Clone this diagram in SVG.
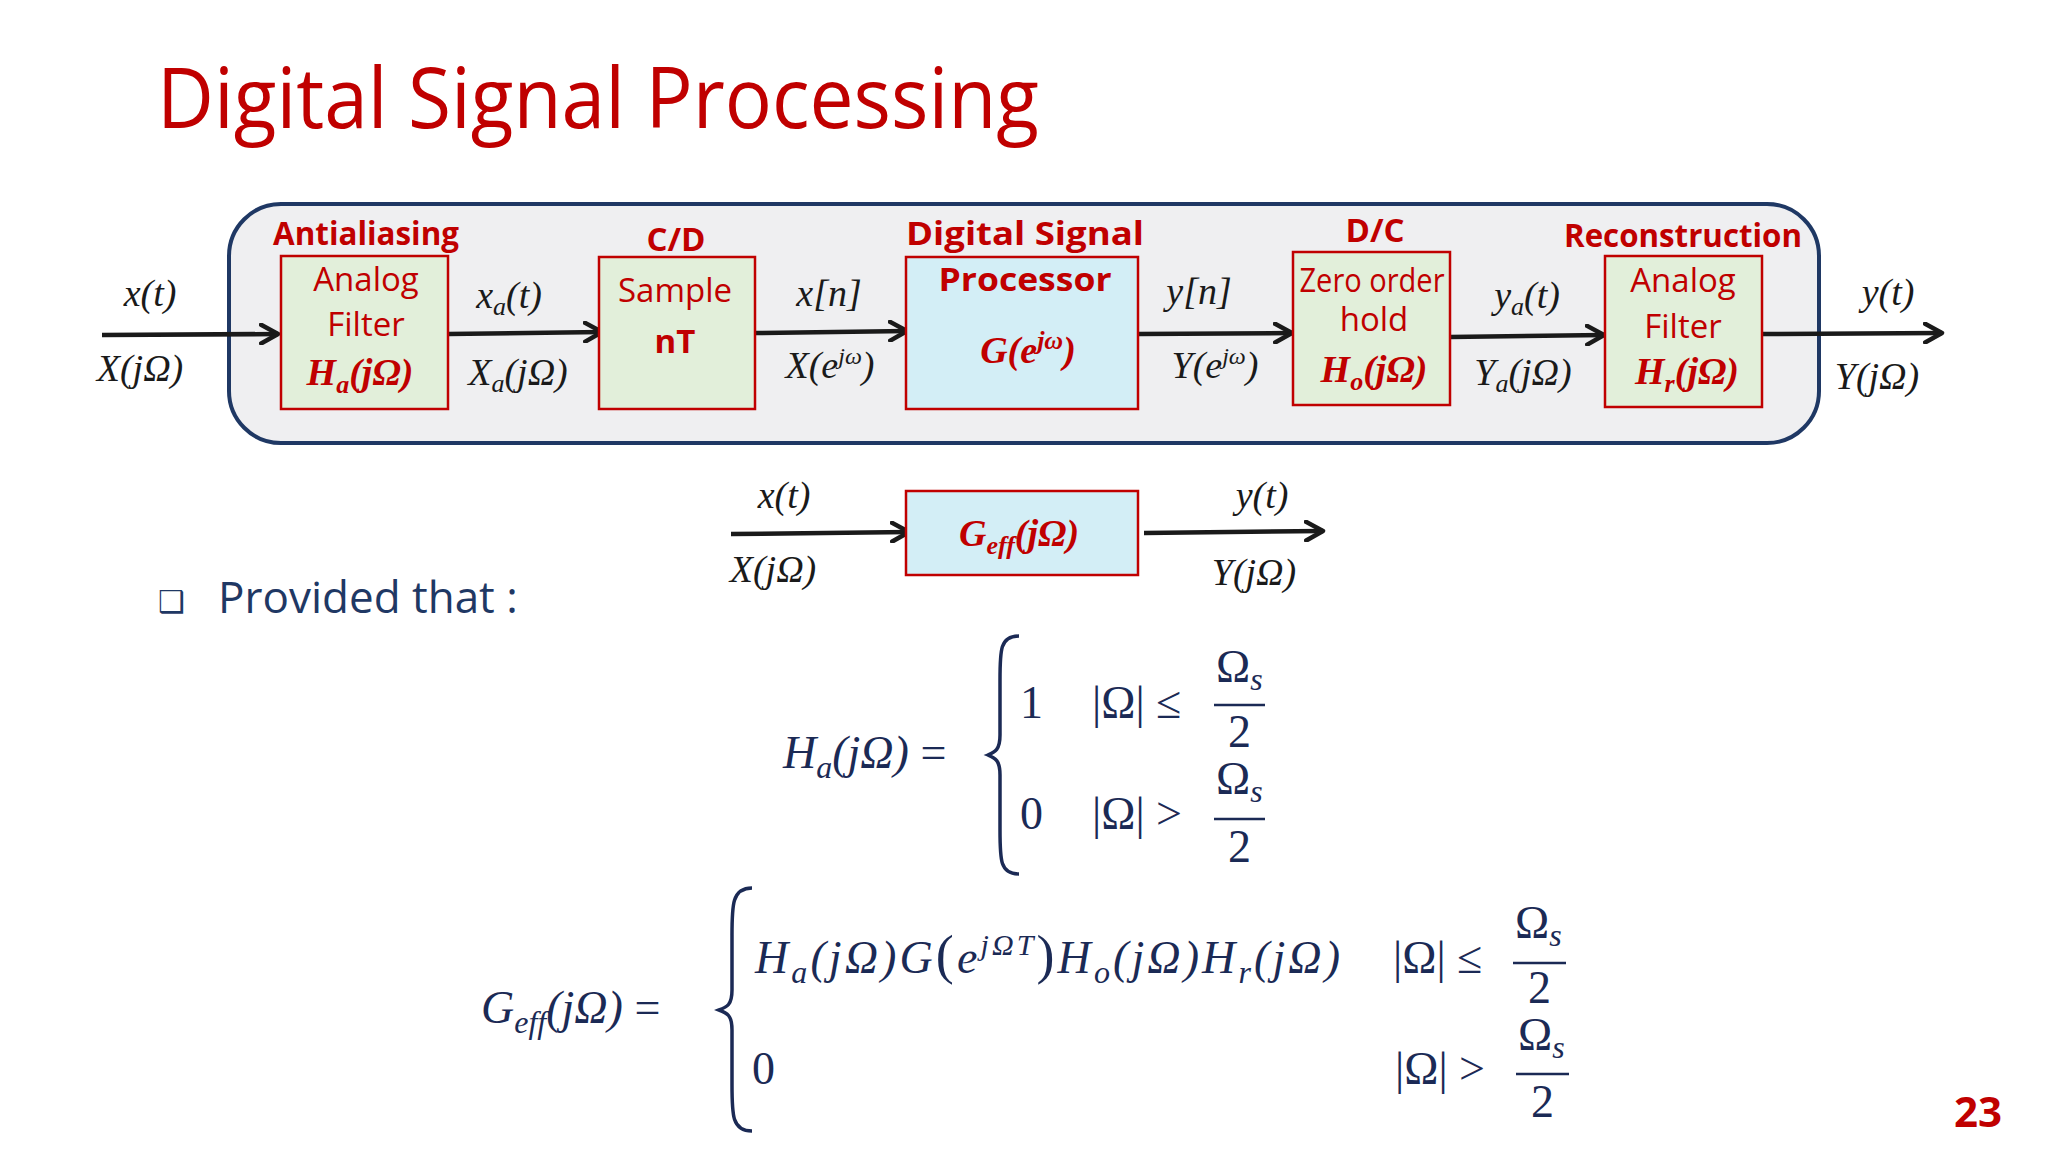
<svg xmlns="http://www.w3.org/2000/svg" width="2048" height="1152" viewBox="0 0 2048 1152">
<defs>
<marker id="ah" viewBox="0 0 12 12" refX="10" refY="6" markerWidth="5" markerHeight="5" orient="auto" markerUnits="strokeWidth">
<path d="M1,1 L10,6 L1,11" fill="none" stroke="#1a1a1a" stroke-width="2.4" stroke-linecap="round" stroke-linejoin="round"/>
</marker>
<style>
.box{fill:#e2efda;stroke:#c00000;stroke-width:2.5}
.dsp{fill:#d3eef6;stroke:#c00000;stroke-width:2.5}
.hd{font-family:"Open Sans","Liberation Sans",sans-serif;font-weight:bold;fill:#c00000;font-size:33px;text-anchor:middle}
.bt{font-family:"Open Sans","Liberation Sans",sans-serif;fill:#c00000;font-size:33px;text-anchor:middle}
.rm{font-family:"Liberation Serif",serif;font-style:italic;font-weight:bold;fill:#c00000;font-size:38px;text-anchor:middle}
.m{font-family:"Liberation Serif",serif;font-style:italic;fill:#1a1a1a;font-size:38px;text-anchor:middle}
.e{font-family:"Liberation Serif",serif;fill:#1b2a55;font-size:46px}
.ei{font-family:"Liberation Serif",serif;font-style:italic;fill:#1b2a55;font-size:46px}
.ln{stroke:#1a1a1a;stroke-width:4.5;fill:none;marker-end:url(#ah)}
.fr{stroke:#1b2a55;stroke-width:2.5}
.br{fill:none;stroke:#1b2a55;stroke-width:3.5}
</style>
</defs>
<rect width="2048" height="1152" fill="#ffffff"/>
<text x="157" y="128" font-family="'Open Sans','Liberation Sans',sans-serif" font-size="84" fill="#c00000" textLength="882" lengthAdjust="spacingAndGlyphs">Digital Signal Processing</text>

<rect x="229" y="204" width="1590" height="239" rx="52" fill="#efeff1" stroke="#1f3864" stroke-width="4"/>

<g id="connectors">
<line class="ln" x1="102" y1="335" x2="278" y2="334"/>
<line class="ln" x1="448" y1="334" x2="602" y2="332"/>
<line class="ln" x1="755" y1="333" x2="907" y2="331"/>
<line class="ln" x1="1138" y1="334" x2="1292" y2="333"/>
<line class="ln" x1="1450" y1="337" x2="1604" y2="335"/>
<line class="ln" x1="1762" y1="334" x2="1942" y2="333"/>
<line class="ln" x1="731" y1="534" x2="909" y2="532"/>
<line class="ln" x1="1144" y1="533" x2="1323" y2="531"/>
</g>

<g id="antialias">
<text class="hd" x="366" y="245" textLength="186" lengthAdjust="spacingAndGlyphs">Antialiasing</text>
<rect class="box" x="281" y="256" width="167" height="153"/>
<text class="bt" x="366" y="291">Analog</text>
<text class="bt" x="366" y="336">Filter</text>
<text class="rm" x="360" y="385">H<tspan font-size="26" dy="8">a</tspan><tspan dy="-8">(jΩ)</tspan></text>
</g>
<g id="cd">
<text class="hd" x="676" y="251">C/D</text>
<rect class="box" x="599" y="257" width="156" height="152"/>
<text class="bt" x="675" y="302">Sample</text>
<text class="bt" x="675" y="353" font-weight="bold">nT</text>
</g>
<g id="dsp">
<text class="hd" x="1025" y="245" textLength="238" lengthAdjust="spacingAndGlyphs">Digital Signal</text>
<rect class="dsp" x="906" y="257" width="232" height="152"/>
<text class="hd" x="1025" y="291" textLength="173" lengthAdjust="spacingAndGlyphs">Processor</text>
<text class="rm" x="1028" y="363">G(e<tspan font-size="26" dy="-14">jω</tspan><tspan dy="14">)</tspan></text>
</g>
<g id="dc">
<text class="hd" x="1375" y="242">D/C</text>
<rect class="box" x="1293" y="252" width="157" height="153"/>
<text class="bt" x="1372" y="292" font-size="29" textLength="145" lengthAdjust="spacingAndGlyphs">Zero order</text>
<text class="bt" x="1374" y="331" font-size="30">hold</text>
<text class="rm" x="1374" y="382">H<tspan font-size="26" dy="8">o</tspan><tspan dy="-8">(jΩ)</tspan></text>
</g>
<g id="recon">
<text class="hd" x="1683" y="247" textLength="238" lengthAdjust="spacingAndGlyphs">Reconstruction</text>
<rect class="box" x="1605" y="256" width="157" height="151"/>
<text class="bt" x="1683" y="292">Analog</text>
<text class="bt" x="1683" y="338">Filter</text>
<text class="rm" x="1687" y="384">H<tspan font-size="26" dy="8">r</tspan><tspan dy="-8">(jΩ)</tspan></text>
</g>
<g id="geff">
<rect class="dsp" x="906" y="491" width="232" height="84"/>
<text class="rm" x="1019" y="546">G<tspan font-size="26" dy="8">eff</tspan><tspan dy="-8">(jΩ)</tspan></text>
</g>

<g id="labels">
<text class="m" x="150" y="306">x(t)</text>
<text class="m" x="140" y="381">X(jΩ)</text>
<text class="m" x="509" y="308">x<tspan font-size="26" dy="7">a</tspan><tspan dy="-7">(t)</tspan></text>
<text class="m" x="518" y="385">X<tspan font-size="26" dy="7">a</tspan><tspan dy="-7">(jΩ)</tspan></text>
<text class="m" x="829" y="306">x[n]</text>
<text class="m" x="830" y="378">X(e<tspan font-size="24" dy="-14">jω</tspan><tspan dy="14">)</tspan></text>
<text class="m" x="1199" y="304">y[n]</text>
<text class="m" x="1215" y="378">Y(e<tspan font-size="24" dy="-14">jω</tspan><tspan dy="14">)</tspan></text>
<text class="m" x="1527" y="308">y<tspan font-size="26" dy="7">a</tspan><tspan dy="-7">(t)</tspan></text>
<text class="m" x="1523" y="385">Y<tspan font-size="26" dy="7">a</tspan><tspan dy="-7">(jΩ)</tspan></text>
<text class="m" x="1888" y="305">y(t)</text>
<text class="m" x="1877" y="389">Y(jΩ)</text>
<text class="m" x="784" y="508">x(t)</text>
<text class="m" x="773" y="582">X(jΩ)</text>
<text class="m" x="1262" y="508">y(t)</text>
<text class="m" x="1254" y="585">Y(jΩ)</text>
</g>

<text x="158" y="612" font-family="'DejaVu Sans',sans-serif" font-size="30" fill="#1f3864">❑</text>
<text x="218" y="613" font-family="'Open Sans','Liberation Sans',sans-serif" font-size="44" fill="#1f3864">Provided that :</text>

<g id="eq1">
<text class="ei" x="783" y="768">H<tspan font-size="32" dy="10">a</tspan><tspan dy="-10">(jΩ) </tspan><tspan font-style="normal">=</tspan></text>
<path class="br" d="M1019,636 C1000,636 1000,650 1000,680 L1000,735 C1000,750 995,752 988,755 C995,758 1000,760 1000,775 L1000,830 C1000,860 1000,874 1019,874"/>
<text class="e" x="1020" y="718">1</text>
<text class="e" x="1092" y="718">|Ω| ≤</text>
<text class="e" x="1216" y="682">Ω<tspan font-style="italic" font-size="32" dy="8">s</tspan></text>
<line class="fr" x1="1214" y1="705" x2="1265" y2="705"/>
<text class="e" x="1228" y="747">2</text>
<text class="e" x="1020" y="829">0</text>
<text class="e" x="1092" y="829">|Ω| &gt;</text>
<text class="e" x="1216" y="794">Ω<tspan font-style="italic" font-size="32" dy="8">s</tspan></text>
<line class="fr" x1="1214" y1="819" x2="1265" y2="819"/>
<text class="e" x="1228" y="862">2</text>
</g>

<g id="eq2">
<text class="ei" x="481" y="1023">G<tspan font-size="32" dy="10">eff</tspan><tspan dy="-10">(jΩ) </tspan><tspan font-style="normal">=</tspan></text>
<path class="br" d="M752,888 C732,888 732,905 732,935 L732,990 C732,1005 727,1007 719,1010 C727,1013 732,1015 732,1030 L732,1085 C732,1115 732,1131 752,1131"/>
<text class="ei" x="755" y="973" textLength="585" lengthAdjust="spacing">H<tspan font-size="32" dy="10">a</tspan><tspan dy="-10">(jΩ)G</tspan><tspan font-size="54" font-style="normal">(</tspan>e<tspan font-size="30" dy="-18">jΩT</tspan><tspan font-size="54" font-style="normal" dy="18">)</tspan>H<tspan font-size="32" dy="10">o</tspan><tspan dy="-10">(jΩ)H</tspan><tspan font-size="32" dy="10">r</tspan><tspan dy="-10">(jΩ)</tspan></text>
<text class="e" x="1393" y="973">|Ω| ≤</text>
<text class="e" x="1515" y="938">Ω<tspan font-style="italic" font-size="32" dy="8">s</tspan></text>
<line class="fr" x1="1513" y1="963" x2="1566" y2="963"/>
<text class="e" x="1528" y="1003">2</text>
<text class="e" x="752" y="1084">0</text>
<text class="e" x="1395" y="1084">|Ω| &gt;</text>
<text class="e" x="1518" y="1050">Ω<tspan font-style="italic" font-size="32" dy="8">s</tspan></text>
<line class="fr" x1="1516" y1="1074" x2="1569" y2="1074"/>
<text class="e" x="1531" y="1117">2</text>
</g>

<text x="1978" y="1127" text-anchor="middle" font-family="'Open Sans','Liberation Sans',sans-serif" font-weight="bold" font-size="42" fill="#c00000">23</text>
</svg>
